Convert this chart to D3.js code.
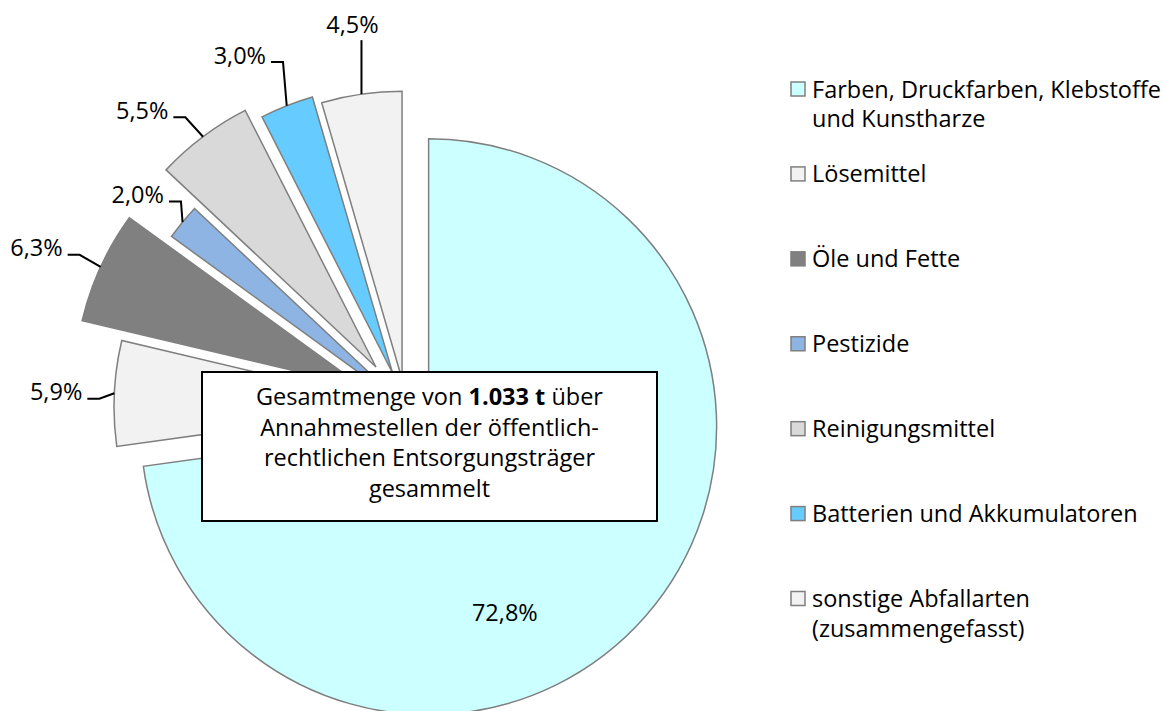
<!DOCTYPE html>
<html lang="de">
<head>
<meta charset="utf-8">
<title>Sonderabfall-Sammlung</title>
<script src="https://cdn.jsdelivr.net/npm/d3@7"></script>
<style>
    html, body { margin: 0; padding: 0; background: #fff; }
    svg { display: block; font-family: "Open Sans", "Noto Sans", sans-serif; }
</style>
</head>
<body>
<div id="chart"></div>
<script>
// categories in the order of the slices (clockwise from 12 o'clock)
const categories = [
    "Farben, Druckfarben, Klebstoffe und Kunstharze",
    "Lösemittel",
    "Öle und Fette",
    "Pestizide",
    "Reinigungsmittel",
    "Batterien und Akkumulatoren",
    "sonstige Abfallarten (zusammengefasst)"
];
// legend text, broken into lines as in the original
const legendLines = [
    ["Farben, Druckfarben, Klebstoffe", "und Kunstharze"],
    ["Lösemittel"],
    ["Öle und Fette"],
    ["Pestizide"],
    ["Reinigungsmittel"],
    ["Batterien und Akkumulatoren"],
    ["sonstige Abfallarten", "(zusammengefasst)"]
];
const shares = [72.8, 5.9, 6.3, 2.0, 5.5, 3.0, 4.5]; // percent
const totalTonnes = 1033;

// styling
const colors = ["#ccffff", "#f2f2f2", "#808080", "#8db4e2", "#d9d9d9", "#66ccff", "#f2f2f2"];
const explode = [30, 4, 48, 2, 50, 36, 28];          // px pulled out along the bisector
const labelOffsets = [[-141, -3], [-15, 5.5], [-21, -12], [-1.6, -20.7], [-17.7, -19.4], [-3.7, -43.7], [0, -54]];
const labelSide = ["inside", "left", "left", "left", "left", "left", "top"];

const width = 1166, height = 711;
const cx = 406, cy = 407, radius = 288;
const fontSize = 23.5;

const de = d3.formatLocale({decimal: ",", thousands: ".", grouping: [3], currency: ["", " €"]});
const pct = v => de.format(".1f")(v) + "%";

const svg = d3.select("#chart").append("svg")
    .attr("width", width)
    .attr("height", height);

const pie = d3.pie().sort(null).value(d => d);
const arc = d3.arc().innerRadius(0).outerRadius(radius);
const arcs = pie(shares);

const mid = d => (d.startAngle + d.endAngle) / 2;
const polar = (a, r) => [Math.sin(a) * r, -Math.cos(a) * r];

const pieG = svg.append("g").attr("transform", `translate(${cx},${cy})`);

pieG.selectAll("path.slice")
    .data(arcs)
    .join("path")
    .attr("class", "slice")
    .attr("transform", (d, i) => {
        const [dx, dy] = polar(mid(d), explode[i]);
        return `translate(${dx},${dy})`;
    })
    .attr("d", arc)
    .attr("fill", (d, i) => colors[i])
    .attr("stroke", "#7f7f7f")
    .attr("stroke-width", 1.5)
    .attr("stroke-linejoin", "miter");

// data labels
arcs.forEach((d, i) => {
    const a = mid(d);
    const [ox, oy] = polar(a, explode[i]);
    const [px, py] = polar(a, radius);
    const ax = ox + px, ay = oy + py;           // point on the outer arc
    const ex = ax + labelOffsets[i][0], ey = ay + labelOffsets[i][1];
    const txt = pct(shares[i]);

    if (labelSide[i] === "inside") {
        pieG.append("text")
            .attr("x", ex).attr("y", ey + 8)
            .attr("text-anchor", "middle")
            .attr("font-size", fontSize)
            .text(txt);
    } else if (labelSide[i] === "top") {
        pieG.append("path")
            .attr("d", d3.line()([[ax, ay], [ex, ey]]))
            .attr("fill", "none").attr("stroke", "#000").attr("stroke-width", 2);
        pieG.append("text")
            .attr("x", ex - 9).attr("y", ey - 7)
            .attr("text-anchor", "middle")
            .attr("font-size", fontSize)
            .text(txt);
    } else {
        pieG.append("path")
            .attr("d", d3.line()([[ax, ay], [ex, ey], [ex - 12, ey]]))
            .attr("fill", "none").attr("stroke", "#000").attr("stroke-width", 2);
        pieG.append("text")
            .attr("x", ex - 17).attr("y", ey + 1.5)
            .attr("text-anchor", "end")
            .attr("font-size", fontSize)
            .text(txt);
    }
});

// annotation box
const box = {x: -204, y: -35, w: 455, h: 149};
const boxG = pieG.append("g");
boxG.append("rect")
    .attr("x", box.x).attr("y", box.y)
    .attr("width", box.w).attr("height", box.h)
    .attr("fill", "#fff").attr("stroke", "#000").attr("stroke-width", 2);

const boxText = boxG.append("text")
    .attr("text-anchor", "middle")
    .attr("font-size", fontSize);
const bx = box.x + box.w / 2;
const l1 = boxText.append("tspan").attr("x", bx).attr("y", box.y + 33);
l1.append("tspan").text("Gesamtmenge von ");
l1.append("tspan").attr("font-weight", "bold").text(de.format(",")(totalTonnes) + " t");
l1.append("tspan").text(" über");
["Annahmestellen der öffentlich-", "rechtlichen Entsorgungsträger", "gesammelt"].forEach((s, k) => {
    boxText.append("tspan").attr("x", bx).attr("y", box.y + 33 + (k + 1) * 30.5).text(s);
});

// legend
const legendY = d3.scaleLinear().domain([0, categories.length - 1]).range([89, 598.5]);
const legend = svg.append("g").attr("class", "legend");
const item = legend.selectAll("g")
    .data(categories)
    .join("g")
    .attr("transform", (d, i) => `translate(791,${legendY(i)})`);

item.append("rect")
    .attr("x", 0).attr("y", -7)
    .attr("width", 14).attr("height", 14)
    .attr("fill", (d, i) => colors[i])
    .attr("stroke", "#7f7f7f")
    .attr("stroke-width", 1.5);

item.append("text")
    .attr("font-size", fontSize)
    .selectAll("tspan")
    .data((d, i) => legendLines[i])
    .join("tspan")
    .attr("x", 21)
    .attr("y", (s, k) => 8.5 + k * 29.5)
    .text(s => s);
</script>
</body>
</html>
